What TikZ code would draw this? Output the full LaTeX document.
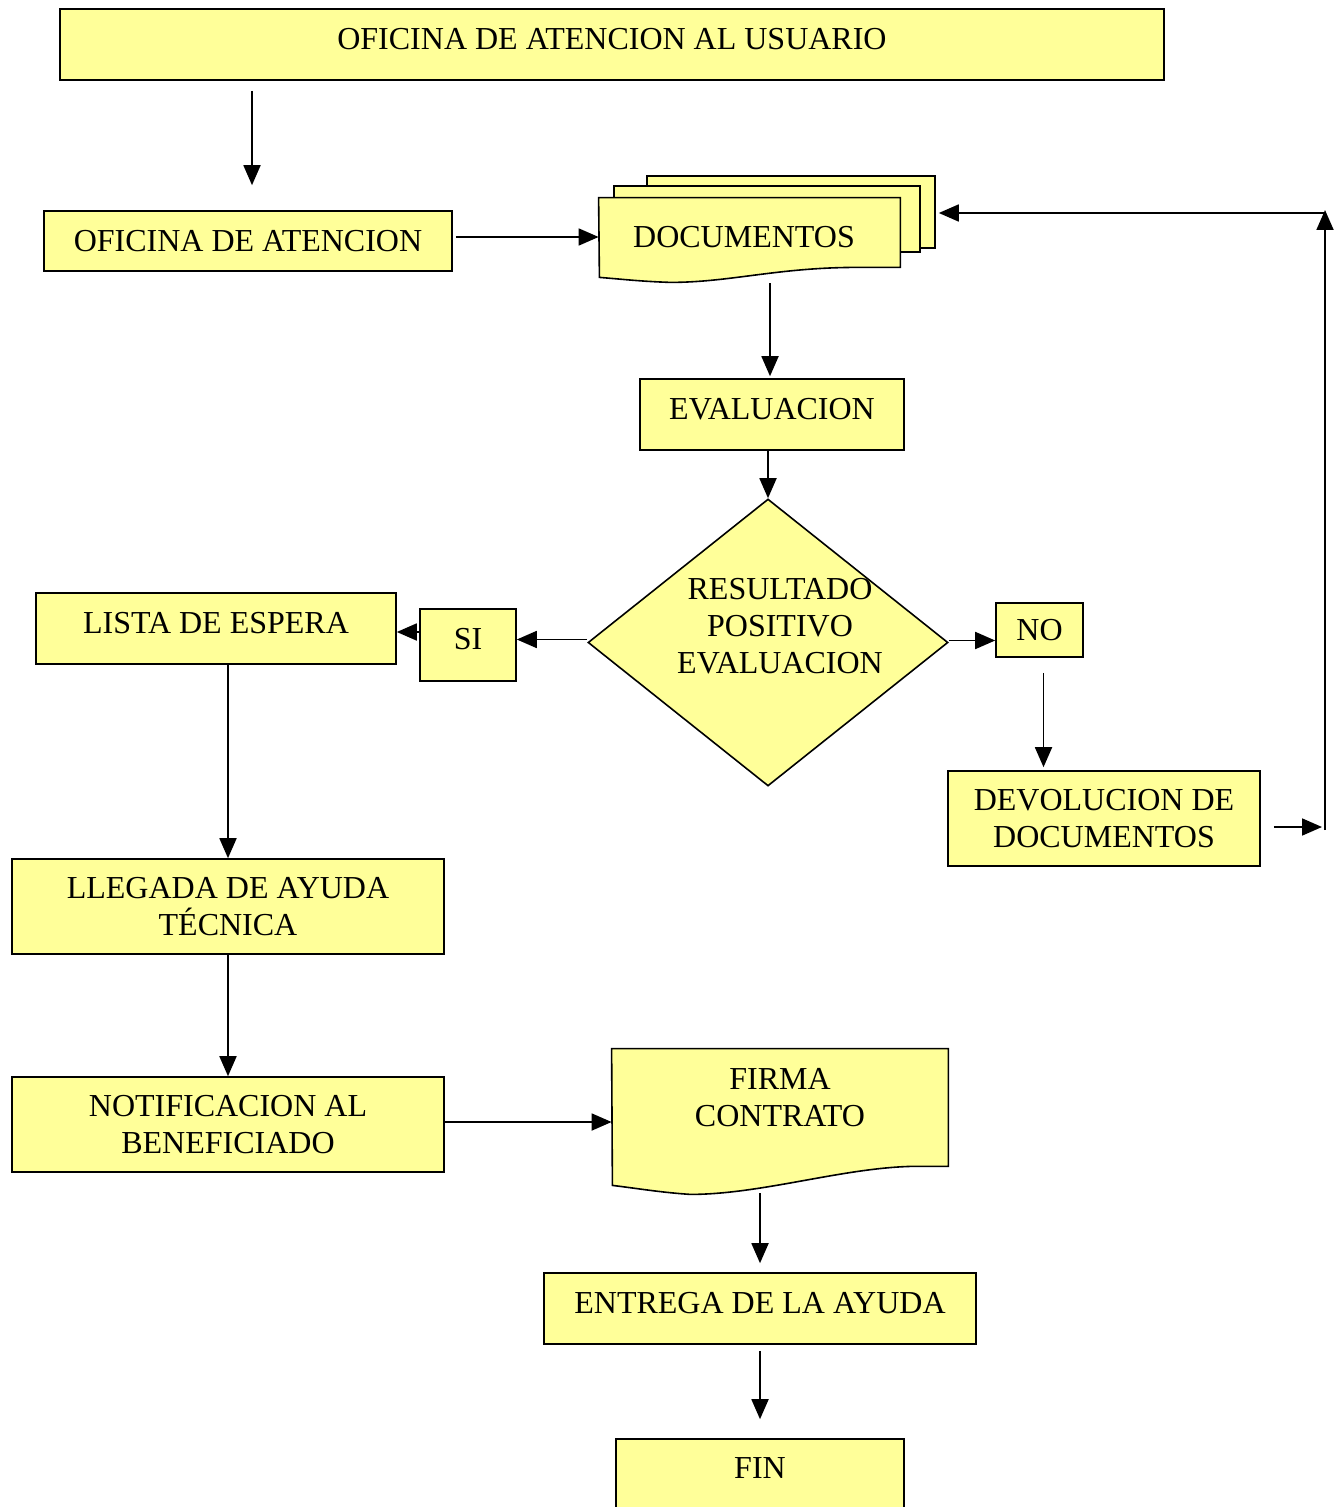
\documentclass[tikz,border=0pt]{standalone}
\usepackage{fontspec}
\setmainfont{Liberation Serif}
\usetikzlibrary{shapes.geometric,arrows.meta}
\definecolor{amarillo}{RGB}{255,255,153}
\begin{document}
\begin{tikzpicture}[x=0.5pt,y=-0.5pt,font=\fontsize{16}{18.5}\selectfont,
  caja/.style={draw,fill=amarillo,line width=0.8pt,inner sep=0pt,align=center},
  alta/.style={text depth=6pt},
  flecha/.style={line width=0.9pt,-{Triangle[length=10pt,width=8.5pt]}}]
\clip (0,0) rectangle (1343,1507);
\node[caja,alta,minimum width=552pt,minimum height=35.5pt] (usuario) at (612,44.5) {OFICINA DE ATENCION AL USUARIO};
\node[caja,minimum width=204pt,minimum height=30pt] (atencion) at (248,241) {OFICINA DE ATENCION};
\node[caja,minimum width=144pt,minimum height=36pt] (docsb) at (791,212) {};
\node[caja,minimum width=153pt,minimum height=33pt] (docsa) at (767,219) {};
\path node[minimum width=150.5pt,minimum height=34.5pt,inner sep=0pt] (docs) at (749.5,232.5) {};
\filldraw[fill=amarillo,line width=0.8pt] (docs.south east) -- ++(-43,0) .. controls +(-80,0) and +(60,0) .. ++(-187,15)
  .. controls +(-30,-1) and +(25,2) .. ++(-71,-5) -- (docs.north west) -- (docs.north east) -- cycle;
\node (docst) at (744,237) {DOCUMENTOS};
\node[caja,alta,minimum width=132pt,minimum height=35.5pt] (evaluacion) at (772,414.5) {EVALUACION};
\node[caja,diamond,minimum width=180pt,minimum height=143.5pt] (decision) at (768,642.5) {};
\node[align=center] (decisiont) at (780,626.5) {RESULTADO\\POSITIVO\\EVALUACION};
\node[caja,alta,minimum width=48pt,minimum height=36pt] (si) at (468,645) {SI};
\node[caja,alta,minimum width=180pt,minimum height=35.5pt] (lista) at (216,628.5) {LISTA DE ESPERA};
\node[caja,minimum width=43.5pt,minimum height=27pt] (no) at (1039.5,630) {NO};
\node[caja,minimum width=156pt,minimum height=47.5pt] (devolucion) at (1104,818.5) {DEVOLUCION DE\\DOCUMENTOS};
\node[caja,minimum width=216pt,minimum height=47.5pt] (llegada) at (228,906.5) {LLEGADA DE AYUDA\\TÉCNICA};
\node[caja,minimum width=216pt,minimum height=47.5pt] (notificacion) at (228,1124.5) {NOTIFICACION AL\\BENEFICIADO};
\path node[minimum width=168pt,minimum height=58.5pt,inner sep=0pt] (firma) at (780,1107.5) {};
\filldraw[fill=amarillo,line width=0.8pt] (firma.south east) -- ++(-38,0) .. controls +(-70,2) and +(70,0) .. ++(-220,28)
  .. controls +(-30,-2) and +(25,3) .. ++(-78,-9) -- (firma.north west) -- (firma.north east) -- cycle;
\node[align=center] (firmat) at (780,1097.5) {FIRMA\\CONTRATO};
\node[caja,alta,minimum width=216pt,minimum height=35.5pt] (entrega) at (760,1308.5) {ENTREGA DE LA AYUDA};
\node[caja,alta,minimum width=144pt,minimum height=35.5pt] (fin) at (760,1474.5) {FIN};
\coordinate (vuelta) at (1325,827);
\coordinate (esquina) at (1325,213);
\draw[flecha,shorten <=5pt,shorten >=12.5pt] ([xshift=2pt]atencion.north |- usuario.south) -- ([xshift=2pt]atencion.north);
\draw[flecha,shorten <=1.5pt] ([yshift=2pt]atencion.east) -- ([yshift=2pt]atencion.east -| docs.west);
\draw[flecha,shorten <=8pt,shorten >=1pt] ([xshift=-1pt]evaluacion.north |- docs.south) -- ([xshift=-1pt]evaluacion.north);
\draw[flecha] (decision.north |- evaluacion.south) -- (decision.north);
\draw[flecha] ([yshift=1.5pt]decision.west) -- ([yshift=1.5pt]decision.west -| si.east);
\draw[flecha] ([yshift=6.5pt]si.west) -- ([yshift=6.5pt]si.west -| lista.east);
\draw[flecha] ([yshift=1pt]decision.east) -- ([yshift=1pt]decision.east -| no.west);
\draw[flecha,shorten <=7.5pt,shorten >=1.5pt] ([xshift=2pt]no.south) -- ([xshift=2pt]no.south |- devolucion.north);
\draw[flecha,shorten <=6.5pt,shorten >=1.5pt] (devolucion.east |- vuelta) -- (vuelta);
\draw[flecha,shorten <=-1.5pt,shorten >=-1.5pt] (vuelta) -- (esquina);
\draw[flecha,shorten >=1.5pt] (esquina) -- (esquina -| docsb.east);
\draw[flecha] (llegada.north |- lista.south) -- (llegada.north);
\draw[flecha] (llegada) -- (notificacion);
\draw[flecha] ([yshift=1.25pt]notificacion.east) -- ([yshift=1.25pt]notificacion.east -| firma.west);
\draw[flecha,shorten <=13.5pt,shorten >=4.5pt] (entrega.north |- firma.south) -- (entrega.north);
\draw[flecha,shorten <=3pt,shorten >=9.5pt] (entrega) -- (fin);
\end{tikzpicture}
\end{document}
